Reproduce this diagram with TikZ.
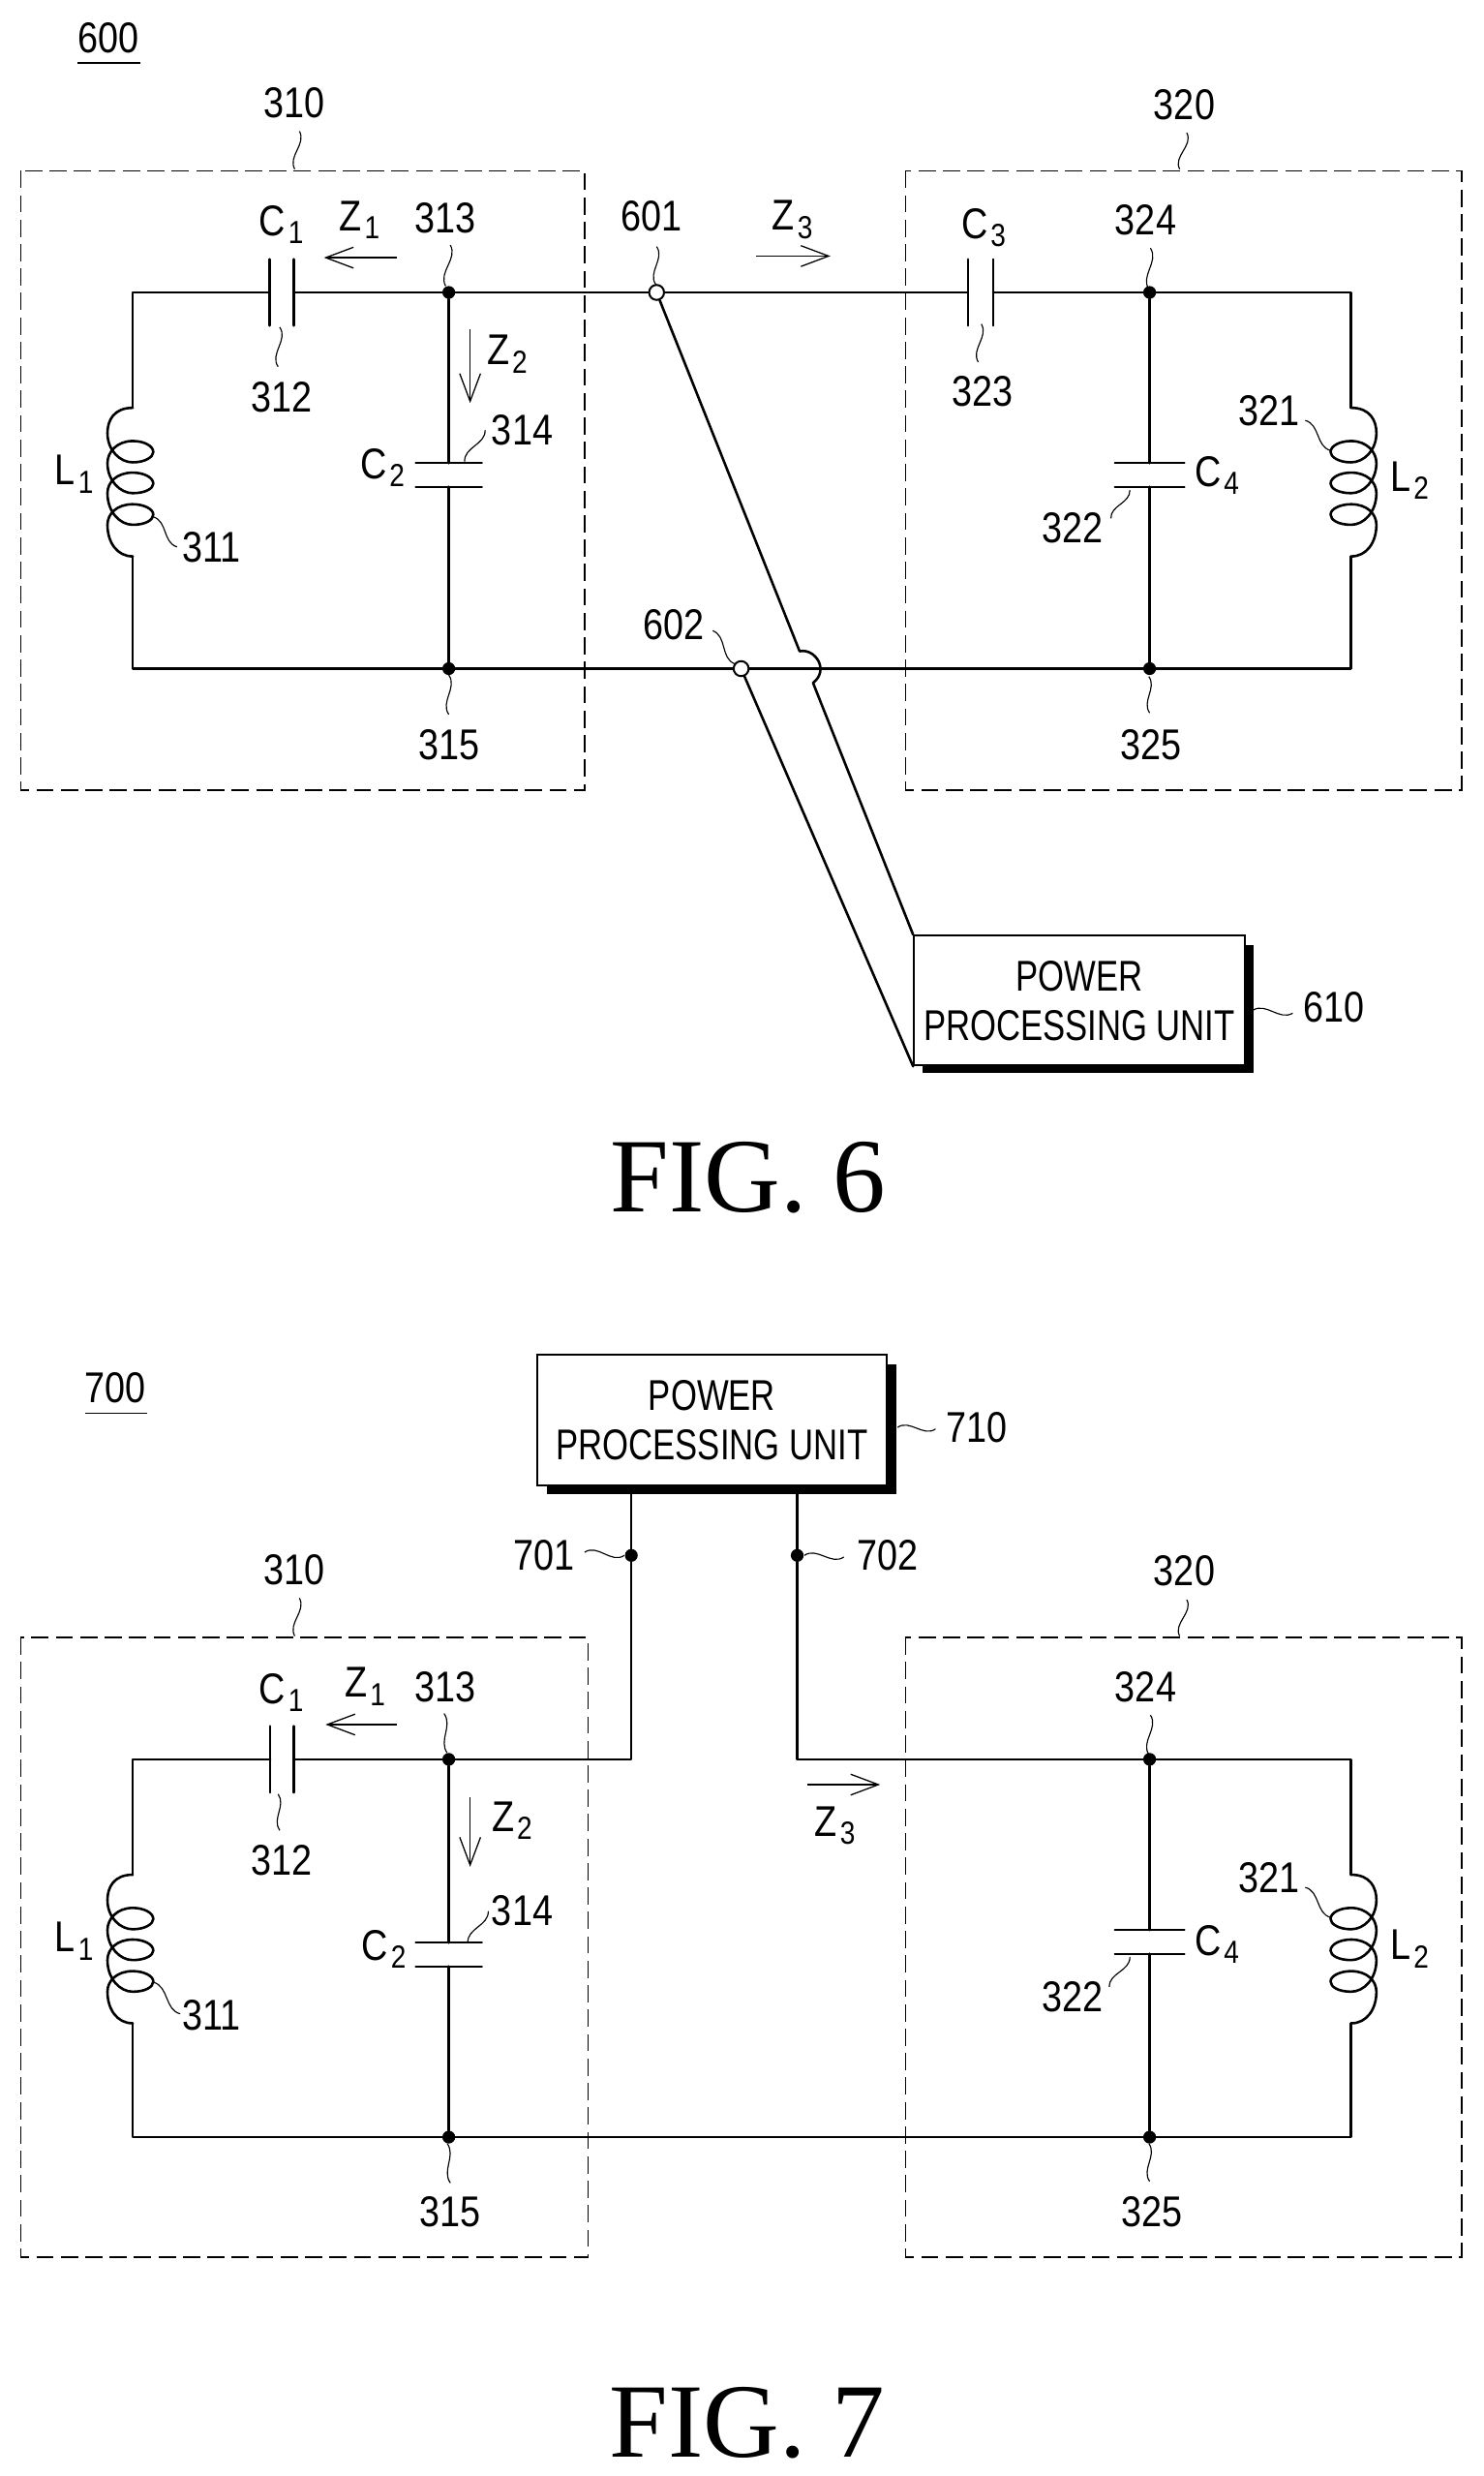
\documentclass[tikz,border=0pt]{standalone}
\usepackage{fontspec}
\setmainfont{Liberation Sans}
\newfontfamily\labfam[FakeStretch=0.85]{Liberation Sans}
\newfontfamily\boxfam[FakeStretch=0.78]{Liberation Sans}
\newfontfamily\figfam{Liberation Serif}
\usetikzlibrary{arrows.meta}
\newcommand{\sbs}[1]{\kern1pt\raisebox{-0.35ex}{\fontsize{11.5}{11.5}\selectfont #1}}
\newcommand{\leadline}[4]{%
  \coordinate (#1a) at (#2); \coordinate (#1b) at (#3);
  \draw[lead] (#1a) to[out=#4+35,in=#4+215,looseness=1] (#1b);}
\tikzset{
  wire/.style={line width=0.9pt,line cap=round,line join=round},
  thinplate/.style={line width=0.7pt},
  lead/.style={line width=0.4pt},
  zarrow/.style={line width=0.45pt,-{Straight Barb[length=10pt,width=7.5pt,line width=0.45pt]}},
  region/.style={line width=0.5pt,dash pattern=on 6.2pt off 2.6pt},
  lab/.style={font=\labfam\fontsize{15.5}{17}\selectfont,inner sep=0pt},
  figlab/.style={font=\figfam\fontsize{38}{40}\selectfont,inner sep=0pt},
  dot/.style={circle,fill=black,draw=black,minimum size=4.2pt,inner sep=0pt},
  opendot/.style={circle,fill=white,draw=black,line width=0.7pt,minimum size=5.4pt,inner sep=0pt},
  ppbox/.style={draw=black,fill=white,line width=0.7pt,inner sep=0pt,align=center,
    font=\boxfam\fontsize{15.5}{17.7}\selectfont},
  coil/.pic={
    \draw[wire] (0,0) .. controls (-12,0) and (-16,8) .. (-16,16)
      .. controls (-16,27) and (-8,34.5) .. (0,34.5)
      .. controls (8,34.5) and (13,31) .. (13,28)
      .. controls (13,24) and (7,21) .. (0,21)
      .. controls (-10,21) and (-16,28) .. (-16,35)
      .. controls (-16,46) and (-8,54) .. (0,54)
      .. controls (8,54) and (13,51) .. (13,48)
      .. controls (13,44) and (7,41) .. (0,41)
      .. controls (-10,41) and (-16,47) .. (-16,54)
      .. controls (-16,66) and (-8,74) .. (0,74)
      .. controls (8,74) and (13,71) .. (13,67.5)
      .. controls (13,64) and (7,61) .. (0,61)
      .. controls (-10,61) and (-16,67) .. (-16,74)
      .. controls (-16,85) and (-10,94) .. (0,94);
  }
}
\begin{document}
\begin{tikzpicture}[x=0.02cm,y=-0.02cm]
\useasboundingbox (0,0) rectangle (938.5,1566.4);

%%%%%%%%%%%%%%%%%%%%% FIG. 6
\node[lab] (a600) at (68.5,24) {600};
\coordinate (a600u1) at (49,40); \coordinate (a600u2) at (89,40);
\draw[line width=0.6pt] (a600u1) -- (a600u2);

\coordinate (aB1nw) at (13,108); \coordinate (aB1se) at (370,500);
\draw[region] (aB1nw) rectangle (aB1se);
\coordinate (aB2nw) at (573,108); \coordinate (aB2se) at (925,500);
\draw[region] (aB2nw) rectangle (aB2se);

% junctions
\node[dot] (a313) at (284,185) {};
\node[dot] (a315) at (284,423) {};
\node[dot] (a324) at (727.5,185) {};
\node[dot] (a325) at (727.5,423) {};
\node[opendot] (a601) at (415.5,185) {};
\node[opendot] (a602) at (469,423) {};

% corners
\coordinate (aTL) at (84,185); \coordinate (aBL) at (84,423);
\coordinate (aTR) at (855,185); \coordinate (aBR) at (855,423);
\coordinate (aL1t) at (84,258); \coordinate (aL1b) at (84,352);
\coordinate (aL2t) at (855,258); \coordinate (aL2b) at (855,352);
\coordinate (aC1l) at (170.5,185); \coordinate (aC1r) at (186,185);
\coordinate (aC3l) at (612.5,185); \coordinate (aC3r) at (628.5,185);
\coordinate (aC2t) at (284,293); \coordinate (aC2b) at (284,308);
\coordinate (aC4t) at (727.5,293); \coordinate (aC4b) at (727.5,308);

% wires
\draw[wire] (aL1t) -- (aTL) -- (aC1l);
\draw[wire] (aC1r) -- (a313) -- (a601) -- (aC3l);
\draw[wire] (aC3r) -- (a324) -- (aTR) -- (aL2t);
\draw[wire] (aL1b) -- (aBL) -- (a315) -- (a602) -- (a325) -- (aBR) -- (aL2b);
\draw[wire] (a313) -- (aC2t); \draw[wire] (aC2b) -- (a315);
\draw[wire] (a324) -- (aC4t); \draw[wire] (aC4b) -- (a325);
\pic at (aL1t) {coil};
\pic[xscale=-1] at (aL2t) {coil};

% capacitor plates
\draw[wire] (aC1l) +(0,-21) -- +(0,21);
\draw[wire] (aC1r) +(0,-21) -- +(0,21);
\draw[wire,thinplate] (aC3l) +(0,-21) -- +(0,21);
\draw[wire,thinplate] (aC3r) +(0,-21) -- +(0,21);
\draw[wire,thinplate] (aC2t) +(-21,0) -- +(21,0);
\draw[wire,thinplate] (aC2b) +(-21,0) -- +(21,0);
\draw[wire,thinplate] (aC4t) +(-22,0) -- +(22,0);
\draw[wire,thinplate] (aC4b) +(-22,0) -- +(22,0);

% power unit
\fill[black] (584,598) rectangle (793,679);
\node[ppbox,minimum width=119pt,minimum height=46.7pt] (appu) at (683,633)
  {POWER\\PROCESSING UNIT};
\coordinate (aj1) at (506,412); \coordinate (aj2) at (514.5,432);
\draw[wire] (a601) -- (aj1) .. controls (516,410) and (525,424) .. (aj2) -- (appu.north west);
\draw[wire] (a602) -- (appu.south west);

% arrows
\coordinate (aZ1s) at (251,163); \coordinate (aZ1e) at (205,163);
\coordinate (aZ2s) at (297.5,208.5); \coordinate (aZ2e) at (297.5,255);
\coordinate (aZ3s) at (478.5,162); \coordinate (aZ3e) at (525.5,162);
\draw[zarrow] (aZ1s) -- (aZ1e);
\draw[zarrow] (aZ2s) -- (aZ2e);
\draw[zarrow] (aZ3s) -- (aZ3e);

% labels
\node[lab] (a310) at (186.5,65) {310};
\node[lab] (a320) at (749.5,66) {320};
\node[lab] (aC1) at (178,142) {C\sbs{1}};
\node[lab] (aZ1) at (227.5,139) {Z\sbs{1}};
\node[lab] (aL313) at (281.5,138) {313};
\node[lab] (aL312) at (178.5,251) {312};
\node[lab] (aZ2) at (321,224) {Z\sbs{2}};
\node[lab] (aL314) at (330.5,272) {314};
\node[lab] (aC2) at (242,296) {C\sbs{2}};
\node[lab] (aL1) at (47,300) {L\sbs{1}};
\node[lab] (aL311) at (134,346.5) {311};
\node[lab] (aL315) at (284.5,471) {315};
\node[lab] (aL601) at (412.5,137) {601};
\node[lab] (aL602) at (426.5,395) {602};
\node[lab] (aZ3) at (501.5,139) {Z\sbs{3}};
\node[lab] (aC3) at (622.5,144) {C\sbs{3}};
\node[lab] (aL323) at (621.5,247.5) {323};
\node[lab] (aL324) at (725,139) {324};
\node[lab] (aC4) at (770,301) {C\sbs{4}};
\node[lab] (aL322) at (679,334) {322};
\node[lab] (aL321) at (803,260) {321};
\node[lab] (aL2) at (892,304) {L\sbs{2}};
\node[lab] (aL325) at (728.5,471) {325};
\node[lab] (aL610) at (844,637) {610};
\node[figlab] (afig) at (473.5,745) {FIG. 6};

% leaders
\leadline{al310}{189.5,83}{186.5,107}{-97}
\leadline{al320}{751,84}{746.5,107}{-97}
\leadline{al313}{285,155}{282,181}{-97}
\leadline{al312}{177,207}{176,232}{-90}
\leadline{al314}{294,292}{307,272}{57}
\leadline{al311}{97,327}{112,346}{-52}
\leadline{al315}{284,427}{284,452}{-90}
\leadline{al601}{415.5,156}{415,180}{-90}
\leadline{al602}{451,399}{465,420}{-56}
\leadline{al323}{621,205}{619,229}{-95}
\leadline{al324}{728,157}{727,183}{-92}
\leadline{al325}{727,428}{727.5,451}{-90}
\leadline{al322}{703,328}{715,310}{57}
\leadline{al321}{826,266}{842,285}{-50}
\leadline{al610}{793,639}{818,641}{-5}

%%%%%%%%%%%%%%%%%%%%% FIG. 7
\node[lab] (b700) at (73,878) {700};
\coordinate (b700u1) at (54,894); \coordinate (b700u2) at (93,894);
\draw[line width=0.6pt] (b700u1) -- (b700u2);

\coordinate (bB1nw) at (13,1036); \coordinate (bB1se) at (372,1428);
\draw[region] (bB1nw) rectangle (bB1se);
\coordinate (bB2nw) at (573,1036); \coordinate (bB2se) at (925,1428);
\draw[region] (bB2nw) rectangle (bB2se);

\node[dot] (b313) at (284,1113) {};
\node[dot] (b315) at (284,1352) {};
\node[dot] (b324) at (727.5,1113) {};
\node[dot] (b325) at (727.5,1352) {};
\node[dot] (b701) at (399.5,984) {};
\node[dot] (b702) at (504.5,984) {};

\coordinate (bTL) at (84,1113); \coordinate (bBL) at (84,1352);
\coordinate (bTR) at (855,1113); \coordinate (bBR) at (855,1352);
\coordinate (bL1t) at (84,1186); \coordinate (bL1b) at (84,1280);
\coordinate (bL2t) at (855,1186); \coordinate (bL2b) at (855,1280);
\coordinate (bC1l) at (171,1113); \coordinate (bC1r) at (186,1113);
\coordinate (bC2t) at (284,1229); \coordinate (bC2b) at (284,1244);
\coordinate (bC4t) at (727.5,1221); \coordinate (bC4b) at (727.5,1236);
\coordinate (bK1) at (399.5,1113); \coordinate (bK2) at (504.5,1113);

\fill[black] (346,863) rectangle (567,945.5);
\node[ppbox,minimum width=126pt,minimum height=47pt] (bppu) at (450.5,898.5)
  {POWER\\PROCESSING UNIT};

\draw[wire] (bL1t) -- (bTL) -- (bC1l);
\draw[wire] (bC1r) -- (b313) -- (bK1) -- (b701) -- (bppu.south -| b701);
\draw[wire] (bppu.south -| b702) -- (b702) -- (bK2) -- (b324) -- (bTR) -- (bL2t);
\draw[wire] (bL1b) -- (bBL) -- (b315) -- (b325) -- (bBR) -- (bL2b);
\draw[wire] (b313) -- (bC2t); \draw[wire] (bC2b) -- (b315);
\draw[wire] (b324) -- (bC4t); \draw[wire] (bC4b) -- (b325);
\pic at (bL1t) {coil};
\pic[xscale=-1] at (bL2t) {coil};

\draw[wire] (bC1l) +(0,-21) -- +(0,21);
\draw[wire] (bC1r) +(0,-21) -- +(0,21);
\draw[wire,thinplate] (bC2t) +(-21,0) -- +(21,0);
\draw[wire,thinplate] (bC2b) +(-21,0) -- +(21,0);
\draw[wire,thinplate] (bC4t) +(-22,0) -- +(22,0);
\draw[wire,thinplate] (bC4b) +(-22,0) -- +(22,0);

\coordinate (bZ1s) at (251,1091); \coordinate (bZ1e) at (206,1091);
\coordinate (bZ2s) at (297.5,1137); \coordinate (bZ2e) at (297.5,1181);
\coordinate (bZ3s) at (511,1129); \coordinate (bZ3e) at (557,1129);
\draw[zarrow] (bZ1s) -- (bZ1e);
\draw[zarrow] (bZ2s) -- (bZ2e);
\draw[zarrow] (bZ3s) -- (bZ3e);

\node[lab] (b310) at (186.5,993) {310};
\node[lab] (b320) at (749.5,994) {320};
\node[lab] (bC1) at (178,1071) {C\sbs{1}};
\node[lab] (bZ1) at (231,1067) {Z\sbs{1}};
\node[lab] (bL313) at (281.5,1067) {313};
\node[lab] (bL312) at (178.5,1177) {312};
\node[lab] (bZ2) at (324,1152) {Z\sbs{2}};
\node[lab] (bL314) at (330.5,1209) {314};
\node[lab] (bC2) at (243,1233) {C\sbs{2}};
\node[lab] (bL1) at (47,1228) {L\sbs{1}};
\node[lab] (bL311) at (134,1275) {311};
\node[lab] (bL315) at (285,1399) {315};
\node[lab] (bL701) at (344.5,984) {701};
\node[lab] (bL702) at (561.5,984) {702};
\node[lab] (bL710) at (618,903) {710};
\node[lab] (bZ3) at (528.5,1155) {Z\sbs{3}};
\node[lab] (bL324) at (725,1067) {324};
\node[lab] (bC4) at (770,1230) {C\sbs{4}};
\node[lab] (bL322) at (678.5,1263) {322};
\node[lab] (bL321) at (803,1188) {321};
\node[lab] (bL2) at (892,1233) {L\sbs{2}};
\node[lab] (bL325) at (729,1399) {325};
\node[figlab] (bfig) at (473,1533) {FIG. 7};

\leadline{bl310}{189.5,1011}{186.5,1035}{-97}
\leadline{bl320}{751,1012}{746.5,1035}{-97}
\leadline{bl313}{281,1084}{283,1109}{-90}
\leadline{bl312}{176,1135}{177,1158}{-90}
\leadline{bl314}{296,1229}{309,1209}{57}
\leadline{bl311}{97,1254}{114,1274}{-50}
\leadline{bl315}{283,1356}{285,1381}{-90}
\leadline{bl701}{370,982}{395,984}{0}
\leadline{bl702}{509,984}{534,985}{0}
\leadline{bl710}{568,903}{592,904}{0}
\leadline{bl324}{728,1085}{727,1110}{-92}
\leadline{bl325}{727,1356}{727.5,1380}{-90}
\leadline{bl322}{702,1257}{715,1238}{57}
\leadline{bl321}{826,1194}{842,1213}{-50}
\end{tikzpicture}
\end{document}
